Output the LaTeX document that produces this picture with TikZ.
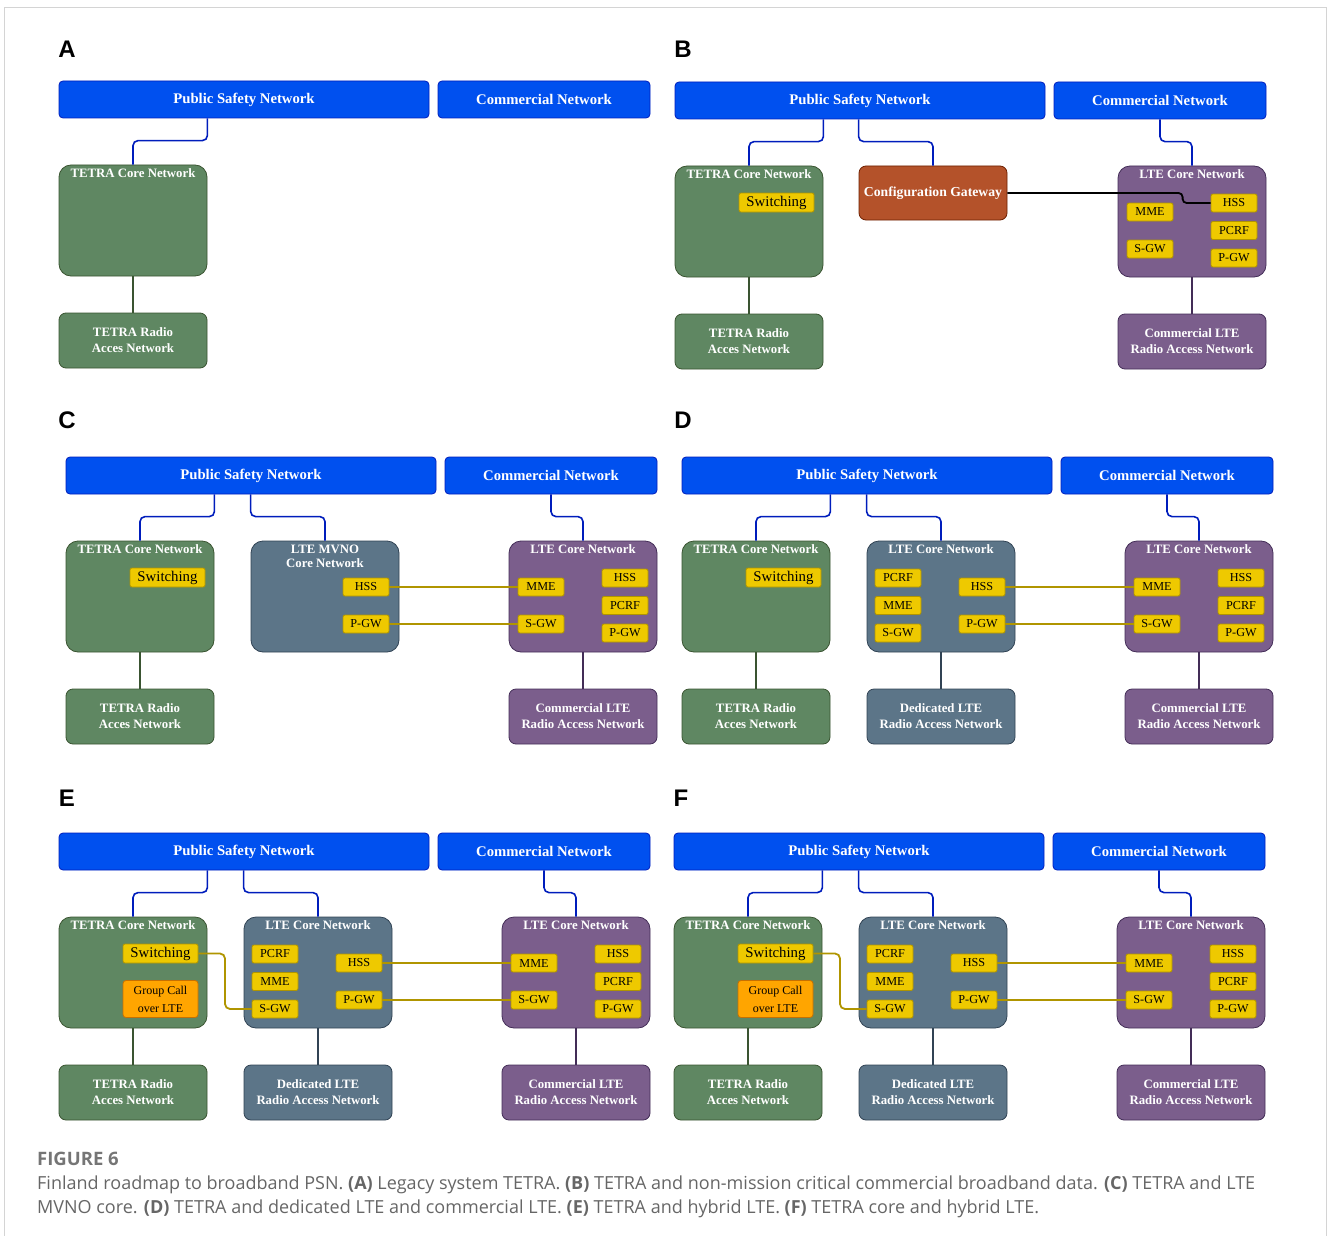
\documentclass[tikz,border=0pt]{standalone}
\usepackage{fontspec}
\setmainfont{Liberation Serif}
\newfontfamily\capfont{Open Sans}
\newfontfamily\tagfont{Liberation Sans}
\usetikzlibrary{calc}

\definecolor{psblue}{HTML}{0050EF}
\definecolor{psedge}{HTML}{001DBC}
\definecolor{tgreen}{HTML}{5F8762}
\definecolor{tedge}{HTML}{3A5431}
\definecolor{lslate}{HTML}{5C7588}
\definecolor{ledge}{HTML}{314354}
\definecolor{cpurple}{HTML}{7B5E8C}
\definecolor{cedge}{HTML}{432D57}
\definecolor{gwred}{HTML}{B4522A}
\definecolor{gwedge}{HTML}{6D1F00}
\definecolor{fnyel}{HTML}{EEC900}
\definecolor{fnedge}{HTML}{B09500}
\definecolor{gcorange}{HTML}{FFA500}
\definecolor{gcedge}{HTML}{C77000}
\definecolor{capgray}{HTML}{666666}
\definecolor{framegray}{HTML}{D4D4D4}

\tikzset{
  hdr/.style={draw=psedge, fill=psblue, rounded corners=4, text=white, inner sep=0,
    line width=0.8, minimum height=37, font=\bfseries\fontsize{14.7}{16}\selectfont},
  core/.style={rounded corners=12, minimum width=148, minimum height=111, inner sep=0, line width=0.8},
  tcore/.style={core, draw=tedge, fill=tgreen},
  lcore/.style={core, draw=ledge, fill=lslate},
  ccore/.style={core, draw=cedge, fill=cpurple},
  ctitle/.style={anchor=north, inner sep=0, yshift=-4, text=white, align=center,
    font=\bfseries\fontsize{12.8}{14}\selectfont},
  ran/.style={rounded corners=7, minimum width=148, minimum height=55, inner sep=0, line width=0.8,
    text=white, align=center, font=\bfseries\fontsize{12.8}{16}\selectfont},
  tran/.style={ran, draw=tedge, fill=tgreen},
  lran/.style={ran, draw=ledge, fill=lslate},
  cran/.style={ran, draw=cedge, fill=cpurple},
  gw/.style={draw=gwedge, fill=gwred, rounded corners=7, minimum width=148, minimum height=54,
    inner sep=0, line width=0.8, text=white, font=\bfseries\fontsize{13.7}{15}\selectfont},
  fn/.style={draw=fnedge, fill=fnyel, rounded corners=2, minimum width=46, minimum height=18,
    inner sep=0, line width=0.8, font=\fontsize{12.2}{13}\selectfont},
  sw/.style={fn, minimum width=75, minimum height=19, font=\fontsize{14.8}{16}\selectfont},
  gc/.style={draw=gcedge, fill=gcorange, rounded corners=3, minimum width=75, minimum height=37,
    inner sep=0, line width=0.8, align=center, font=\fontsize{12}{18}\selectfont},
  pline/.style={draw=psedge, line width=1.6, rounded corners=5},
  tline/.style={draw=tedge, line width=1.6},
  lline/.style={draw=ledge, line width=1.6},
  cline/.style={draw=cedge, line width=1.6},
  yline/.style={draw=fnedge, line width=1.8, rounded corners=5},
  kline/.style={draw=black, line width=1.8, rounded corners=4},
  tag/.style={inner sep=0, font=\tagfont\bfseries\fontsize{24}{24}\selectfont},
  captext/.style={anchor=base west, inner sep=0, text=capgray, font=\capfont\fontsize{18}{22}\selectfont},
}

% header pair of one panel
\newcommand\Hdr[1]{%
  \node[hdr, minimum width=370] (#1psn) at (244,99.5) {Public Safety Network};
  \node[hdr, minimum width=212] (#1com) at (544,99.5) {Commercial Network};}
% TETRA column
\newcommand\Tetra[1]{%
  \node[tcore, label={[ctitle]north:TETRA Core Network}] (#1tc) at (133,220.5) {};
  \node[tran] (#1tr) at (133,340.5) {TETRA Radio\\Acces Network};
  \draw[pline] (#1psn.south -| #1tc.east) |- ([yshift=24]#1tc.north) -- (#1tc.north);
  \draw[tline] (#1tc) -- (#1tr);}
% commercial LTE column
\newcommand\Comm[1]{%
  \node[ccore, label={[ctitle]north:LTE Core Network}] (#1cc) at (576,220.5) {};
  \node[fn] (#1cmme) at (534,211) {MME};
  \node[fn] (#1csgw) at (534,248) {S-GW};
  \node[fn] (#1chss) at (618,202) {HSS};
  \node[fn] (#1cpcrf) at (618,229.5) {PCRF};
  \node[fn] (#1cpgw) at (618,257) {P-GW};
  \node[cran] (#1cr) at (576,340.5) {Commercial LTE\\Radio Access Network};
  \draw[pline] (#1com.south) |- ([yshift=24]#1cc.north) -- (#1cc.north);
  \draw[cline] (#1cc) -- (#1cr);}
% dedicated LTE column
\newcommand\Ded[1]{%
  \node[lcore, label={[ctitle]north:LTE Core Network}] (#1dc) at (318,220.5) {};
  \node[fn] (#1dpcrf) at (275,202) {PCRF};
  \node[fn] (#1dmme) at (275,229.5) {MME};
  \node[fn] (#1dsgw) at (275,257) {S-GW};
  \node[fn] (#1dhss) at (359,211) {HSS};
  \node[fn] (#1dpgw) at (359,248) {P-GW};
  \node[lran] (#1dr) at (318,340.5) {Dedicated LTE\\Radio Access Network};
  \draw[pline] (#1psn.south -| #1dc.west) |- ([yshift=24]#1dc.north) -- (#1dc.north);
  \draw[lline] (#1dc) -- (#1dr);
  \draw[yline] (#1dhss) -- (#1cmme);
  \draw[yline] (#1dpgw) -- (#1csgw);}

\begin{document}
\begin{tikzpicture}[x=1pt, y=-1pt]
  \useasboundingbox (0,0) rectangle (1328,1236);
  % outer frame
  \draw[framegray, line width=1] (4,1236) -- (4,8) -- (1326,8) -- (1326,1236);

  % panel tags
  \node[tag] (tagA) at (67,49) {A};
  \node[tag] (tagB) at (683,49) {B};
  \node[tag] (tagC) at (67,420) {C};
  \node[tag] (tagD) at (683,420) {D};
  \node[tag] (tagE) at (67,798) {E};
  \node[tag] (tagF) at (681,798) {F};

  % A: legacy TETRA
  \begin{scope}
    \Hdr{a}
    \Tetra{a}
  \end{scope}

  % B: TETRA + commercial data
  \begin{scope}[shift={(616,1)}]
    \Hdr{b}
    \Tetra{b}
    \node[sw] (bsw) at (160.5,201.5) {Switching};
    \node[gw] (bgw) at (317,192) {Configuration Gateway};
    \draw[pline] (bpsn.south -| bgw.west) |- ([yshift=24]bgw.north) -- (bgw.north);
    \Comm{b}
    \draw[kline] (bgw.east) -| ([xshift=-28]bchss.west) -- (bchss.west);
  \end{scope}

  % C: TETRA + LTE MVNO core
  \begin{scope}[shift={(7,376)}]
    \Hdr{c}
    \Tetra{c}
    \node[sw] (csw) at (160.5,201.5) {Switching};
    \Comm{c}
    \node[lcore, label={[ctitle]north:LTE MVNO\\Core Network}] (cvc) at (318,220.5) {};
    \node[fn] (cvhss) at (359,211) {HSS};
    \node[fn] (cvpgw) at (359,248) {P-GW};
    \draw[pline] (cpsn.south -| cvc.west) |- ([yshift=24]cvc.north) -- (cvc.north);
    \draw[yline] (cvhss) -- (ccmme);
    \draw[yline] (cvpgw) -- (ccsgw);
  \end{scope}

  % D: TETRA + dedicated and commercial LTE
  \begin{scope}[shift={(623,376)}]
    \Hdr{d}
    \Tetra{d}
    \node[sw] (dsw) at (160.5,201.5) {Switching};
    \Comm{d}
    \Ded{d}
  \end{scope}

  % E: TETRA + hybrid LTE
  \begin{scope}[shift={(0,752)}]
    \Hdr{e}
    \Tetra{e}
    \node[sw] (esw) at (160.5,201.5) {Switching};
    \node[gc] (egc) at (160.5,247) {Group Call\\over LTE};
    \Comm{e}
    \Ded{e}
    \draw[yline] (esw.east) -| ($(esw.east)!.5!(edsgw.west)$) |- (edsgw.west);
  \end{scope}

  % F: TETRA core + hybrid LTE
  \begin{scope}[shift={(615,752)}]
    \Hdr{f}
    \Tetra{f}
    \node[sw] (fsw) at (160.5,201.5) {Switching};
    \node[gc] (fgc) at (160.5,247) {Group Call\\over LTE};
    \Comm{f}
    \Ded{f}
    \draw[yline] (fsw.east) -| ($(fsw.east)!.5!(fdsgw.west)$) |- (fdsgw.west);
  \end{scope}

  % caption
  \node[captext, font=\capfont\bfseries\fontsize{18.5}{22}\selectfont, text=capgray!90] (fig) at (37,1165) {FIGURE 6};
  \node[captext] (cap1) at (37,1189) {Finland roadmap to broadband PSN. \textbf{(A)} Legacy system TETRA. \textbf{(B)} TETRA and non-mission critical commercial broadband data. \textbf{(C)} TETRA and LTE};
  \node[captext] (cap2) at (37,1213) {MVNO core. \textbf{(D)} TETRA and dedicated LTE and commercial LTE. \textbf{(E)} TETRA and hybrid LTE. \textbf{(F)} TETRA core and hybrid LTE.};
\end{tikzpicture}
\end{document}
